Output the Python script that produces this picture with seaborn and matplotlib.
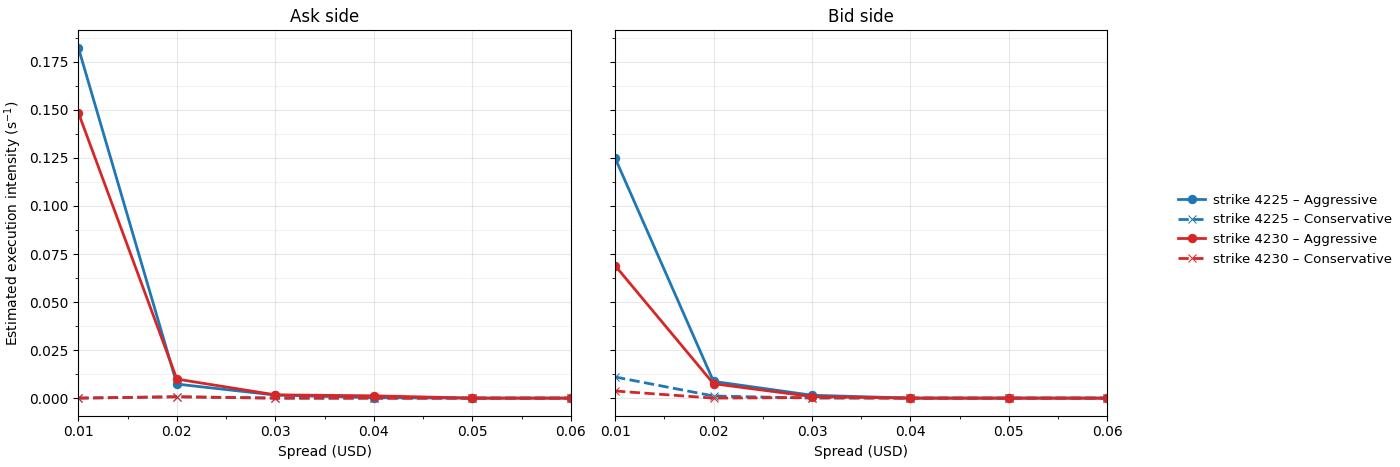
import matplotlib
matplotlib.use("Agg")
import matplotlib.pyplot as plt
from matplotlib.ticker import MultipleLocator
import pandas as pd
import seaborn as sns

spreads = [0.01, 0.02, 0.03, 0.04, 0.05, 0.06]

# ask side
ask_4225_aggr = [0.1823, 0.0073, 0.0016, 0.0002, 0.0, 0.0]
ask_4225_cons = [0.0, 0.0007, 0.0, 0.0, 0.0, 0.0]
ask_4230_aggr = [0.1485, 0.0099, 0.0017, 0.0012, 0.0, 0.0]
ask_4230_cons = [0.0, 0.0007, 0.0, 0.0, 0.0, 0.0]

# bid side
bid_4225_aggr = [0.125, 0.0087, 0.0015, 0.0, 0.0, 0.0]
bid_4225_cons = [0.011, 0.0011, 0.0, 0.0, 0.0, 0.0]
bid_4230_aggr = [0.069, 0.0075, 0.0008, 0.0, 0.0, 0.0]
bid_4230_cons = [0.0037, 0.0, 0.0003, 0.0, 0.0, 0.0]

series = {
    "Ask side": [
        ("strike 4225 – Aggressive", ask_4225_aggr, "tab:blue", "o", "-"),
        ("strike 4225 – Conservative", ask_4225_cons, "tab:blue", "x", "--"),
        ("strike 4230 – Aggressive", ask_4230_aggr, "tab:red", "o", "-"),
        ("strike 4230 – Conservative", ask_4230_cons, "tab:red", "x", "--"),
    ],
    "Bid side": [
        ("strike 4225 – Aggressive", bid_4225_aggr, "tab:blue", "o", "-"),
        ("strike 4225 – Conservative", bid_4225_cons, "tab:blue", "x", "--"),
        ("strike 4230 – Aggressive", bid_4230_aggr, "tab:red", "o", "-"),
        ("strike 4230 – Conservative", bid_4230_cons, "tab:red", "x", "--"),
    ],
}

fig, axes = plt.subplots(1, 2, figsize=(14, 4.67), dpi=100, sharey=True)

for ax, (side, lines) in zip(axes, series.items()):
    for label, vals, color, marker, ls in lines:
        df = pd.DataFrame({"spread": spreads, "intensity": vals})
        sns.lineplot(data=df, x="spread", y="intensity", ax=ax, color=color,
                     marker=marker, linestyle=ls, linewidth=2, markersize=6,
                     markeredgecolor=color, label=label, legend=False)
    ax.set_title(side, fontsize=12)
    ax.set_xlabel("Spread (USD)")
    ax.set_ylabel("")
    ax.set_xlim(0.01, 0.06)
    ax.xaxis.set_minor_locator(MultipleLocator(0.005))
    ax.yaxis.set_minor_locator(MultipleLocator(0.0125))
    ax.grid(True, which="major", alpha=0.3)
    ax.grid(True, which="minor", axis="y", alpha=0.15)

axes[0].set_ylabel("Estimated execution intensity (s$^{-1}$)")

handles, labels = axes[0].get_legend_handles_labels()
fig.legend(handles, labels, loc="center left", bbox_to_anchor=(0.833, 0.508),
           frameon=False, fontsize=9.6, labelspacing=0.5, handletextpad=0.6)

fig.subplots_adjust(left=0.056, right=0.791, bottom=0.11, top=0.935, wspace=0.09)
fig.savefig("out.png", dpi=100)
